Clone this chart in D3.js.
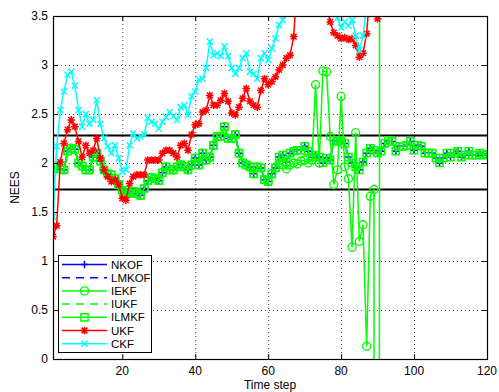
<!DOCTYPE html>
<html>
<head>
<meta charset="utf-8">
<script src="https://cdn.jsdelivr.net/npm/d3@7"></script>
<style>
  body { margin: 0; background: #fff; }
  text { font-family: "Liberation Sans", Arial, sans-serif; }
</style>
</head>
<body>
<div id="plot"></div>
<script>
// chart size and axes box
const width = 499,
    height = 392;
const box = {left: 53, top: 16, right: 487, bottom: 359};

// NEES values, one per time step (1..120)
// shared curve of NKOF / LMKOF / IUKF / ILMKF (they sit on top of each other)
const neesMain = [1.95,1.96,1.94,1.93,2.12,2.15,2.14,2.00,1.97,1.93,
  1.93,2.06,2.10,2.02,1.93,1.89,1.88,1.84,1.78,1.72,
  1.69,1.69,1.71,1.69,1.67,1.74,1.82,1.85,1.84,1.82,
  1.90,1.96,1.93,1.93,1.96,1.98,1.96,1.93,1.98,2.05,
  1.98,2.10,2.03,2.06,2.18,2.27,2.27,2.37,2.25,2.25,
  2.29,2.10,2.00,1.98,1.96,1.89,1.96,1.95,1.83,1.81,
  1.89,1.95,2.06,2.08,2.01,2.10,2.12,2.13,2.13,2.17,
  2.12,2.06,2.08,2.06,2.00,2.05,2.03,2.23,2.22,2.23,
  2.20,2.06,2.00,1.96,1.93,2.01,2.10,2.15,2.13,2.10,
  2.12,2.20,2.23,2.22,2.12,2.17,2.17,2.18,2.22,2.13,
  2.18,2.17,2.10,2.10,2.10,2.05,2.00,2.05,2.10,2.06,
  2.10,2.12,2.06,2.08,2.12,2.08,2.08,2.10,2.08,2.09];

// IEKF follows the shared curve up to step 62, then breaks away and blows up after step 91
const iekfTail = [2.00,1.98,1.94,1.98,2.00,1.99,2.02,2.03,2.00,2.03,
  2.80,2.00,2.94,2.93,2.27,1.78,1.93,2.68,1.96,1.84,
  1.14,2.31,1.20,1.37,0.13,1.66,1.73,-60,60];

const neesUKF = [1.25,1.36,2.01,2.20,2.34,2.44,2.37,2.22,2.06,2.18,
  2.10,2.13,2.25,2.05,1.93,1.86,1.81,1.83,1.78,1.64,
  1.62,1.79,1.86,1.88,1.88,1.88,2.03,2.03,2.03,2.03,
  2.10,2.13,2.13,2.10,2.06,2.18,2.20,2.13,2.29,2.39,
  2.40,2.52,2.54,2.69,2.59,2.59,2.64,2.71,2.63,2.51,
  2.49,2.57,2.66,2.76,2.63,2.59,2.57,2.74,2.86,2.80,
  2.83,2.88,2.95,3.00,3.07,3.10,3.29,3.90,4.20,4.40,
  4.60,4.50,4.30,4.10,3.90,3.60,3.44,3.33,3.30,3.27,
  3.28,3.26,3.27,3.20,3.08,3.12,3.32,3.80,4.10,3.47,
  4.20,4.50,4.80,5.00,5.20,5.30,5.50,5.60,5.80,5.90,
  6.00,6.10,6.30,6.40,6.50,6.60,6.70,6.80,6.90,7.00,
  7.10,7.20,7.30,7.40,7.50,7.60,7.70,7.80,7.90,8.00];

const neesCKF = [1.45,2.17,2.54,2.73,2.90,2.93,2.79,2.54,2.37,2.50,
  2.40,2.44,2.64,2.40,2.25,2.17,2.10,2.18,2.05,1.91,
  1.93,2.18,2.30,2.25,2.27,2.29,2.46,2.42,2.40,2.35,
  2.42,2.47,2.52,2.48,2.44,2.57,2.59,2.49,2.68,2.73,
  2.85,2.86,2.97,3.24,3.10,3.12,3.09,3.19,3.09,2.97,
  2.91,2.97,3.07,3.12,2.93,2.91,2.86,3.07,3.12,3.05,
  3.17,3.27,3.41,3.46,3.70,3.90,4.00,4.10,4.00,3.95,
  3.90,3.85,3.80,3.80,3.75,3.70,3.65,3.60,3.48,3.38,
  3.44,3.40,3.46,3.30,3.15,3.30,3.60,4.00,4.30,4.50,
  4.70,4.90,5.00,5.20,5.30,5.40,5.50,5.60,5.70,5.80,
  5.90,6.00,6.10,6.20,6.30,6.40,6.50,6.60,6.70,6.80,
  6.90,7.00,7.10,7.20,7.30,7.40,7.50,7.60,7.70,7.80];

// consistency bounds (horizontal black lines)
const bounds = [1.73, 2.28];

const xTicks = [20, 40, 60, 80, 100, 120];
const yTicks = [0, 0.5, 1, 1.5, 2, 2.5, 3, 3.5];

const steps = d3.range(1, 121);
const iekfValues = neesMain.slice(0, 62).concat(iekfTail);

// series in drawing order
const series = [
  {name: "NKOF",  values: neesMain,   color: "#0000ff", dash: null,  marker: "plus"},
  {name: "LMKOF", values: neesMain,   color: "#0000ff", dash: "8,6", marker: null},
  {name: "IEKF",  values: iekfValues, color: "#00ff00", dash: null,  marker: "circle"},
  {name: "IUKF",  values: neesMain,   color: "#00ff00", dash: "8,6", marker: null},
  {name: "ILMKF", values: neesMain,   color: "#00ff00", dash: null,  marker: "square"},
  {name: "UKF",   values: neesUKF,    color: "#ff0000", dash: null,  marker: "star"},
  {name: "CKF",   values: neesCKF,    color: "#00ffff", dash: null,  marker: "cross"}
];

const x = d3.scaleLinear().domain([1, 120]).range([box.left, box.right]);
const y = d3.scaleLinear().domain([0, 3.5]).range([box.bottom, box.top]);

const svg = d3.select("#plot")
  .append("svg")
    .attr("width", width)
    .attr("height", height);

svg.append("defs").append("clipPath")
    .attr("id", "clip")
  .append("rect")
    .attr("x", box.left)
    .attr("y", box.top)
    .attr("width", box.right - box.left)
    .attr("height", box.bottom - box.top);

// dotted grid
const grid = svg.append("g");
grid.selectAll("line.gx")
  .data(xTicks.filter(d => d < 120))
  .join("line")
    .attr("x1", d => x(d) + 0.5).attr("x2", d => x(d) + 0.5)
    .attr("y1", box.top).attr("y2", box.bottom)
    .attr("stroke", "#444").attr("stroke-dasharray", "1,3");
grid.selectAll("line.gy")
  .data(yTicks.filter(d => d > 0 && d < 3.5))
  .join("line")
    .attr("x1", box.left).attr("x2", box.right)
    .attr("y1", d => Math.round(y(d)) + 0.5).attr("y2", d => Math.round(y(d)) + 0.5)
    .attr("stroke", "#444").attr("stroke-dasharray", "1,3");

// bounds
svg.append("g").selectAll("line")
  .data(bounds)
  .join("line")
    .attr("x1", box.left).attr("x2", box.right)
    .attr("y1", d => y(d)).attr("y2", d => y(d))
    .attr("stroke", "#000").attr("stroke-width", 2);

// marker shapes
function markerPath(type) {
  const s = 3.8;
  if (type === "plus") return `M${-s},0H${s}M0,${-s}V${s}`;
  if (type === "cross") return `M${-s*0.8},${-s*0.8}L${s*0.8},${s*0.8}M${-s*0.8},${s*0.8}L${s*0.8},${-s*0.8}`;
  if (type === "star") {
    const k = s * 0.75;
    return `M${-s},0H${s}M0,${-s}V${s}M${-k},${-k}L${k},${k}M${-k},${k}L${k},${-k}`;
  }
  if (type === "square") return `M-3.6,-3.6H3.6V3.6H-3.6Z`;
  return null;
}

const plotArea = svg.append("g").attr("clip-path", "url(#clip)");

const line = d3.line()
  .defined(d => d[1] != null)
  .x(d => x(d[0]))
  .y(d => y(d[1]));

series.forEach(s => {
  const pts = steps.map((t, i) => [t, s.values[i] == null ? null : s.values[i]]);
  plotArea.append("path")
    .datum(pts)
    .attr("d", line)
    .attr("fill", "none")
    .attr("stroke", s.color)
    .attr("stroke-width", 1.5)
    .attr("stroke-dasharray", s.dash);

  if (s.marker) {
    const mk = plotArea.append("g").selectAll("g")
      .data(pts.filter(d => d[1] != null && d[1] > -1 && d[1] < 4))
      .join("g")
        .attr("transform", d => `translate(${x(d[0])},${y(d[1])})`);
    if (s.marker === "circle") {
      mk.append("circle").attr("r", 4)
        .attr("fill", "none").attr("stroke", s.color).attr("stroke-width", 1.4);
    } else {
      mk.append("path").attr("d", markerPath(s.marker))
        .attr("fill", "none").attr("stroke", s.color).attr("stroke-width", 1.5);
    }
  }
});

// axes box and inner ticks
const axes = svg.append("g");
axes.append("rect")
    .attr("x", box.left + 0.5).attr("y", box.top + 0.5)
    .attr("width", box.right - box.left).attr("height", box.bottom - box.top)
    .attr("fill", "none").attr("stroke", "#000").attr("stroke-width", 1.2);

axes.selectAll("line.tx")
  .data(xTicks)
  .join("line")
    .attr("class", "tx")
    .attr("x1", d => x(d) + 0.5).attr("x2", d => x(d) + 0.5)
    .attr("y1", box.bottom).attr("y2", box.bottom - 5)
    .attr("stroke", "#000");
axes.selectAll("line.txt")
  .data(xTicks)
  .join("line")
    .attr("class", "txt")
    .attr("x1", d => x(d) + 0.5).attr("x2", d => x(d) + 0.5)
    .attr("y1", box.top).attr("y2", box.top + 5)
    .attr("stroke", "#000");
axes.selectAll("line.ty")
  .data(yTicks)
  .join("line")
    .attr("class", "ty")
    .attr("x1", box.left).attr("x2", box.left + 5)
    .attr("y1", d => Math.round(y(d)) + 0.5).attr("y2", d => Math.round(y(d)) + 0.5)
    .attr("stroke", "#000");
axes.selectAll("line.tyr")
  .data(yTicks)
  .join("line")
    .attr("class", "tyr")
    .attr("x1", box.right - 5).attr("x2", box.right)
    .attr("y1", d => Math.round(y(d)) + 0.5).attr("y2", d => Math.round(y(d)) + 0.5)
    .attr("stroke", "#000");

// tick labels
axes.selectAll("text.xl")
  .data(xTicks)
  .join("text")
    .attr("class", "xl")
    .attr("x", d => x(d))
    .attr("y", box.bottom + 16)
    .attr("text-anchor", "middle")
    .attr("font-size", 12)
    .text(d => d);
axes.selectAll("text.yl")
  .data(yTicks)
  .join("text")
    .attr("class", "yl")
    .attr("x", box.left - 5)
    .attr("y", d => y(d) + 4)
    .attr("text-anchor", "end")
    .attr("font-size", 12)
    .text(d => d);

svg.append("text")
    .attr("x", (box.left + box.right) / 2)
    .attr("y", 389)
    .attr("text-anchor", "middle")
    .attr("font-size", 12)
    .text("Time step");
svg.append("text")
    .attr("transform", `translate(19, ${(box.top + box.bottom) / 2}) rotate(-90)`)
    .attr("text-anchor", "middle")
    .attr("font-size", 12)
    .text("NEES");

// legend
const legend = svg.append("g");
legend.append("rect")
    .attr("x", 58.5).attr("y", 255.5)
    .attr("width", 93).attr("height", 97)
    .attr("fill", "#fff").attr("stroke", "#000").attr("stroke-width", 1);

const legItem = legend.selectAll("g.item")
  .data(series)
  .join("g")
    .attr("class", "item")
    .attr("transform", (d, i) => `translate(0, ${264.5 + i * 13.2})`);
legItem.append("line")
    .attr("x1", 62).attr("x2", 107)
    .attr("stroke", d => d.color)
    .attr("stroke-width", 1.5)
    .attr("stroke-dasharray", d => d.dash);
legItem.each(function(d) {
  const g = d3.select(this).append("g").attr("transform", "translate(84.5,0)");
  if (d.marker === "circle") {
    g.append("circle").attr("r", 4).attr("fill", "none").attr("stroke", d.color).attr("stroke-width", 1.4);
  } else if (d.marker) {
    g.append("path").attr("d", markerPath(d.marker)).attr("fill", "none").attr("stroke", d.color).attr("stroke-width", 1.5);
  }
});
legItem.append("text")
    .attr("x", 111)
    .attr("y", 4)
    .attr("font-size", 11.5)
    .text(d => d.name);
</script>
</body>
</html>
